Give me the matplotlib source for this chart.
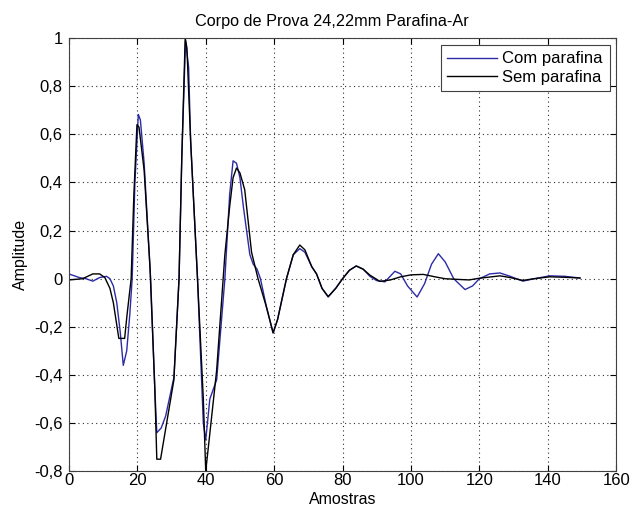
import matplotlib
matplotlib.use("Agg")
import matplotlib.pyplot as plt
from matplotlib.ticker import FuncFormatter

# ----------------------------------------------
# Dados (amostra, amplitude)
# ----------------------------------------------
x_com = [0, 3, 5, 7, 9, 11, 12, 13, 14, 15, 15.9, 16.9, 17.8, 18.5, 19.3, 20.3,
         20.9, 22, 23.9, 25.1, 25.7, 27, 28.3, 30.7, 32.2, 33, 34.1, 35,
         35.6, 37.6, 39.3, 40, 40.5, 41.2, 43.2, 45.6, 47, 48, 49, 50, 51,
         52.9, 53.9, 55, 56, 57.8, 59.7, 61, 63.6, 65.6, 67.5, 69, 71, 72.4,
         74, 75.8, 78, 80, 82, 84, 86, 88, 90, 92.4, 95.3, 97, 99, 101.8,
         104, 106, 108, 110, 112.5, 115.8, 118, 120, 123, 126, 129, 132.7,
         136, 140.6, 145, 149.4]
y_com = [0.02, 0.005, 0.0, -0.01, 0.005, 0.01, 0.0, -0.03, -0.1, -0.22, -0.36,
         -0.3, -0.15, 0.0, 0.4, 0.683, 0.66, 0.48, 0.0, -0.45, -0.64, -0.62,
         -0.57, -0.41, 0.0, 0.5, 0.99, 0.88, 0.57, 0.0, -0.6, -0.67, -0.6,
         -0.5, -0.42, 0.0, 0.35, 0.49, 0.48, 0.42, 0.3, 0.1, 0.06, 0.04, 0.0,
         -0.12, -0.225, -0.17, 0.0, 0.1, 0.125, 0.11, 0.05, 0.02, -0.04,
         -0.076, -0.04, 0.0, 0.035, 0.053, 0.04, 0.01, -0.008, -0.013, 0.031,
         0.02, -0.03, -0.076, -0.02, 0.06, 0.104, 0.07, 0.0, -0.045, -0.03,
         0.0, 0.02, 0.024, 0.01, -0.01, 0.0, 0.012, 0.01, 0.003]

x_sem = [0, 4, 7, 9, 10.5, 12, 13, 14.6, 16.3, 17, 18.2, 19, 19.9, 20.5,
         22, 23.7, 25.1, 25.7, 26.8, 30.7, 32.2, 33, 34, 34.5, 35.6, 37.6,
         39.3, 40, 41, 43.2, 45.6, 47, 48, 49, 50, 51.4, 53.4, 55.3, 57.8,
         59.7, 61, 63.6, 65.6, 67.5, 69, 71, 72.4, 74, 75.8, 78, 80, 82, 84,
         86, 88, 90.9, 94, 97, 100, 103.6, 107, 110, 114, 117, 120, 126, 129,
         132.7, 136, 140.6, 145, 149.4]
y_sem = [-0.005, 0.0, 0.02, 0.02, 0.005, -0.04, -0.1, -0.248, -0.248, -0.15,
         0.0, 0.35, 0.64, 0.63, 0.45, 0.05, -0.45, -0.75, -0.75, -0.42, 0.0,
         0.5, 1.0, 0.96, 0.57, 0.0, -0.5, -0.8, -0.67, -0.38, 0.1, 0.3, 0.42,
         0.46, 0.44, 0.37, 0.11, 0.0, -0.12, -0.225, -0.17, 0.0, 0.1, 0.14,
         0.12, 0.05, 0.02, -0.04, -0.074, -0.04, 0.0, 0.035, 0.053, 0.04,
         0.015, -0.011, -0.005, 0.008, 0.016, 0.018, 0.008, 0.0, -0.003,
         -0.005, 0.002, 0.012, 0.005, -0.007, 0.0, 0.008, 0.006, 0.003]

xticks = [0, 20, 40, 60, 80, 100, 120, 140, 160]
yticks = [-0.8, -0.6, -0.4, -0.2, 0, 0.2, 0.4, 0.6, 0.8, 1]

plt.rcParams['font.family'] = ['Liberation Sans', 'DejaVu Sans']
plt.rcParams['font.size'] = 11.5

fig = plt.figure(figsize=(6.32, 5.15), dpi=100)
ax = fig.add_axes([0.109, 0.085, 0.866, 0.841])

ax.plot(x_com, y_com, color='#2b2ba8', lw=1.0, label='Com parafina')
ax.plot(x_sem, y_sem, color='black', lw=1.0, label='Sem parafina')

ax.set_xlim(0, 160)
ax.set_ylim(-0.8, 1)
ax.set_xticks(xticks)
ax.set_yticks(yticks)

def virgula(v, pos):
    s = f"{v:g}"
    return s.replace('.', ',')

ax.xaxis.set_major_formatter(FuncFormatter(virgula))
ax.yaxis.set_major_formatter(FuncFormatter(virgula))
ax.tick_params(direction='in', top=True, right=True, length=4, labelsize=12)
ax.tick_params(axis='x', pad=1.5)
ax.tick_params(axis='y', pad=4.5)
ax.grid(True, linestyle=(0, (1, 3)), color='#303030', linewidth=0.8)
for s in ax.spines.values():
    s.set_color('#404040')

ax.set_title("Corpo de Prova 24,22mm Parafina-Ar", fontsize=11.7, pad=9,
             x=0.48)
ax.set_xlabel("Amostras", fontsize=11.5, labelpad=3)
ax.set_ylabel("Amplitude", fontsize=11.5, labelpad=4)

leg = ax.legend(loc='upper right', fancybox=False, framealpha=1,
                edgecolor='#404040', handlelength=3.0, handletextpad=0.3,
                borderaxespad=0.4, borderpad=0.4, fontsize=12,
                labelspacing=0.2)
leg.get_frame().set_linewidth(0.8)

fig.savefig("out.png", dpi=100)
